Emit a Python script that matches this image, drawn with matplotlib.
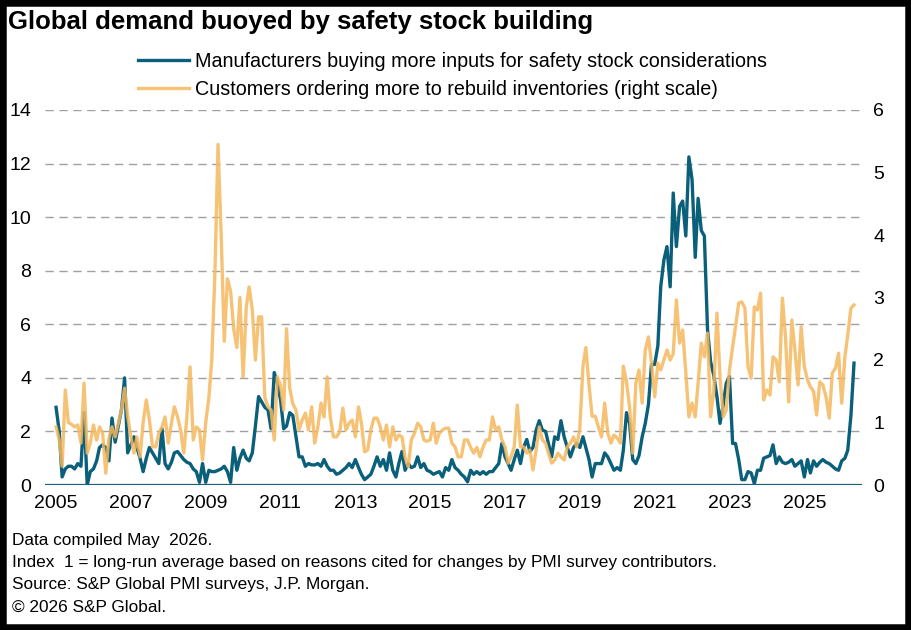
import matplotlib
matplotlib.use("Agg")
import matplotlib.pyplot as plt
import matplotlib.patches as mpatches
import pandas as pd

plt.rcParams["font.family"] = ["Liberation Sans", "DejaVu Sans"]

# monthly values, Jan 2005 .. May 2026
safety_stock = (
    [2.9, 2.0, 0.3, 0.6, 0.7, 0.7, 0.6, 0.8, 0.7, 2.7, 0.0, 0.5]            # 2005
    + [0.6, 0.9, 1.4, 1.5, 1.4, 0.9, 2.5, 1.6, 2.2, 2.8, 4.0, 1.2]          # 2006
    + [1.5, 1.8, 1.4, 1.0, 0.5, 1.0, 1.4, 1.2, 1.0, 0.8, 2.1, 0.8]          # 2007
    + [0.6, 0.85, 1.2, 1.25, 1.1, 0.95, 0.85, 0.8, 0.6, 0.5, 0.1, 0.8]      # 2008
    + [0.1, 0.55, 0.5, 0.5, 0.55, 0.6, 0.7, 0.5, 0.1, 1.4, 0.55, 1.0]       # 2009
    + [1.3, 1.0, 0.9, 1.2, 2.2, 3.3, 3.1, 2.9, 2.8, 2.1, 4.2, 3.8]          # 2010
    + [3.2, 2.1, 2.2, 2.7, 2.6, 1.8, 1.05, 1.05, 0.7, 0.8, 0.75, 0.75]      # 2011
    + [0.8, 0.7, 0.95, 0.7, 0.55, 0.55, 0.4, 0.45, 0.55, 0.65, 0.8, 0.65]   # 2012
    + [0.95, 0.65, 0.4, 0.2, 0.3, 0.4, 0.7, 1.05, 0.7, 0.95, 0.55, 1.2]     # 2013
    + [0.55, 0.3, 0.8, 1.25, 0.55, 0.8, 0.65, 0.7, 1.05, 0.65, 0.8, 0.55]   # 2014
    + [0.5, 0.4, 0.45, 0.5, 0.3, 0.65, 0.55, 0.95, 0.65, 0.55, 0.4, 0.3]    # 2015
    + [0.12, 0.55, 0.4, 0.5, 0.4, 0.5, 0.4, 0.5, 0.5, 0.65, 0.8, 1.55]      # 2016
    + [1.05, 0.8, 0.55, 0.95, 1.3, 0.8, 1.4, 1.7, 1.25, 1.4, 2.05, 2.4]     # 2017
    + [2.05, 2.0, 1.55, 1.05, 1.8, 1.7, 2.4, 1.8, 1.4, 1.05, 1.4, 1.55]     # 2018
    + [1.4, 1.8, 1.4, 0.95, 0.3, 0.8, 0.8, 0.8, 1.2, 1.05, 0.8, 0.55]       # 2019
    + [0.65, 0.55, 1.3, 2.7, 2.3, 0.95, 0.8, 1.1, 1.8, 2.3, 3.0, 4.5]       # 2020
    + [4.5, 5.2, 7.4, 8.4, 8.9, 7.4, 10.9, 8.9, 10.4, 10.6, 9.3, 12.25]     # 2021
    + [11.4, 8.5, 10.7, 9.5, 9.3, 5.8, 4.6, 4.1, 3.3, 2.3, 3.0, 3.8]        # 2022
    + [4.05, 1.55, 1.55, 0.95, 0.2, 0.2, 0.5, 0.45, 0.05, 0.55, 0.55, 1.0]  # 2023
    + [1.05, 1.1, 1.5, 0.8, 1.05, 0.85, 0.8, 0.85, 0.95, 0.7, 0.8, 0.9]     # 2024
    + [0.3, 0.95, 0.45, 0.9, 0.7, 0.85, 0.95, 0.85, 0.8, 0.7, 0.6, 0.55]    # 2025
    + [0.9, 1.0, 1.3, 2.6, 4.55]                                            # 2026
)

rebuild_inventories = (
    [0.93, 0.72, 0.3, 1.52, 1.0, 0.97, 0.93, 0.96, 0.67, 1.63, 0.51, 0.67]
    + [0.96, 0.72, 0.93, 0.83, 0.19, 0.75, 0.93, 0.77, 0.99, 1.2, 1.55, 1.1]
    + [0.77, 0.51, 0.77, 0.45, 1.0, 1.36, 1.04, 0.61, 0.61, 0.83, 0.93, 1.09]
    + [0.67, 0.99, 1.25, 1.09, 0.88, 0.51, 1.09, 1.89, 0.72, 0.93, 0.88, 0.4]
    + [1.0, 1.4, 2.0, 3.4, 5.45, 4.0, 2.3, 3.3, 3.1, 2.5, 2.2, 3.0]
    + [1.73, 2.85, 3.17, 2.8, 2.0, 2.69, 2.69, 1.4, 1.25, 1.2, 0.72, 1.73]
    + [1.6, 1.2, 2.5, 1.55, 1.3, 1.2, 0.88, 1.04, 1.15, 0.88, 1.25, 0.67]
    + [0.93, 1.31, 1.09, 1.73, 1.09, 0.77, 0.77, 0.85, 1.23, 0.88, 0.99, 1.04]
    + [0.77, 1.25, 0.99, 0.53, 0.56, 0.88, 1.07, 1.07, 0.93, 0.72, 0.96, 0.61]
    + [0.93, 0.72, 0.8, 0.77, 0.45, 0.29, 0.72, 0.83, 0.99, 0.93, 0.72, 0.7]
    + [0.72, 0.99, 0.67, 0.83, 0.88, 0.91, 0.91, 0.67, 0.61, 0.45, 0.45, 0.72]
    + [0.72, 0.6, 0.51, 0.6, 0.45, 0.61, 0.72, 0.72, 1.09, 0.88, 0.93, 0.72]
    + [0.61, 0.35, 0.45, 0.61, 1.28, 0.61, 0.61, 0.51, 0.56, 0.24, 0.56, 0.93]
    + [0.72, 0.67, 0.51, 0.35, 0.4, 0.51, 0.45, 0.4, 0.61, 0.67, 0.77, 0.61]
    + [0.9, 1.9, 2.2, 1.6, 1.1, 1.1, 0.93, 0.77, 1.31, 0.83, 0.67, 0.8]
    + [0.75, 0.67, 1.9, 1.65, 1.25, 0.51, 1.63, 1.84, 1.31, 2.16, 2.37, 1.95]
    + [1.41, 1.95, 1.84, 2.0, 2.16, 2.0, 2.1, 2.96, 2.27, 2.48, 1.8, 1.09]
    + [1.31, 1.09, 1.63, 2.27, 2.05, 2.43, 1.09, 1.5, 2.75, 1.73, 1.09, 1.2]
    + [1.84, 2.21, 2.53, 2.91, 2.93, 2.83, 1.89, 1.71, 2.85, 2.8, 3.07, 1.36]
    + [1.52, 1.44, 2.05, 2.0, 1.65, 2.99, 2.37, 1.33, 2.64, 2.16, 1.6, 2.53]
    + [1.89, 1.68, 1.57, 1.5, 1.12, 1.65, 1.6, 1.41, 1.07, 1.79, 1.87, 2.11]
    + [1.31, 2.05, 2.4, 2.83, 2.88]
)

dates = pd.date_range("2005-01-01", periods=len(safety_stock), freq="MS")
tick_years = list(range(2005, 2026, 2))

TITLE = "Global demand buoyed by safety stock building"
LABELS = [
    "Manufacturers buying more inputs for safety stock considerations",
    "Customers ordering more to rebuild inventories (right scale)",
]
FOOTNOTES = [
    "Data compiled May  2026.",
    "Index  1 = long-run average based on reasons cited for changes by PMI survey contributors.",
    "Source: S&P Global PMI surveys, J.P. Morgan.",
    "\u00a9 2026 S&P Global.",
]

BLUE = "#0a5f7b"
ORANGE = "#f5b85e"

fig = plt.figure(figsize=(9.11, 6.30), dpi=100)
ax = fig.add_axes([45 / 911, 1 - 485 / 630, (862 - 45) / 911, (485 - 110) / 630])
ax2 = ax.twinx()

l1, = ax.plot(dates, safety_stock, color=BLUE, lw=2.4, zorder=3)
l2, = ax2.plot(dates, rebuild_inventories, color=ORANGE, lw=2.4, alpha=0.85, zorder=3)

ax.set_ylim(0, 14)
ax2.set_ylim(0, 6)
ax.set_yticks(range(0, 15, 2))
ax2.set_yticks(range(0, 7))
ax.set_xlim(pd.Timestamp("2004-09-15"), pd.Timestamp("2026-07-18"))
ax.set_xticks([pd.Timestamp(f"{y}-01-01") for y in tick_years])
ax.set_xticklabels([str(y) for y in tick_years])

ax.grid(axis="y", color="#a0a0a0", lw=1.0, ls=(0, (6, 4)))
ax.set_axisbelow(True)
for a in (ax, ax2):
    for s in ("top", "left", "right", "bottom"):
        a.spines[s].set_visible(False)
ax.axhline(0, color="#1d5f78", lw=1.6, zorder=4)

ax.tick_params(axis="y", length=0, pad=10, labelsize=14)
ax2.tick_params(axis="y", length=0, pad=8, labelsize=14)
ax.tick_params(axis="x", length=0, pad=7, labelsize=14)

fig.text(8 / 911, 1 - 22 / 630, TITLE, fontsize=18.5, fontweight="bold", va="center", ha="left")
fig.legend([l1, l2], LABELS, loc="upper left", bbox_to_anchor=(138 / 911, 1 - 52 / 630),
           frameon=False, fontsize=14.2, handlelength=2.6, handletextpad=0.3, labelspacing=0.45,
           borderaxespad=0, borderpad=0)
for i, line in enumerate(FOOTNOTES):
    fig.text(12 / 911, 1 - (540 + 22.5 * i) / 630, line, fontsize=12.4, va="center", ha="left")

fig.patches.append(mpatches.Rectangle((0, 0), 1, 1, transform=fig.transFigure, fill=False,
                                      edgecolor="black", lw=9, zorder=10))

fig.savefig("out.png", dpi=100)
